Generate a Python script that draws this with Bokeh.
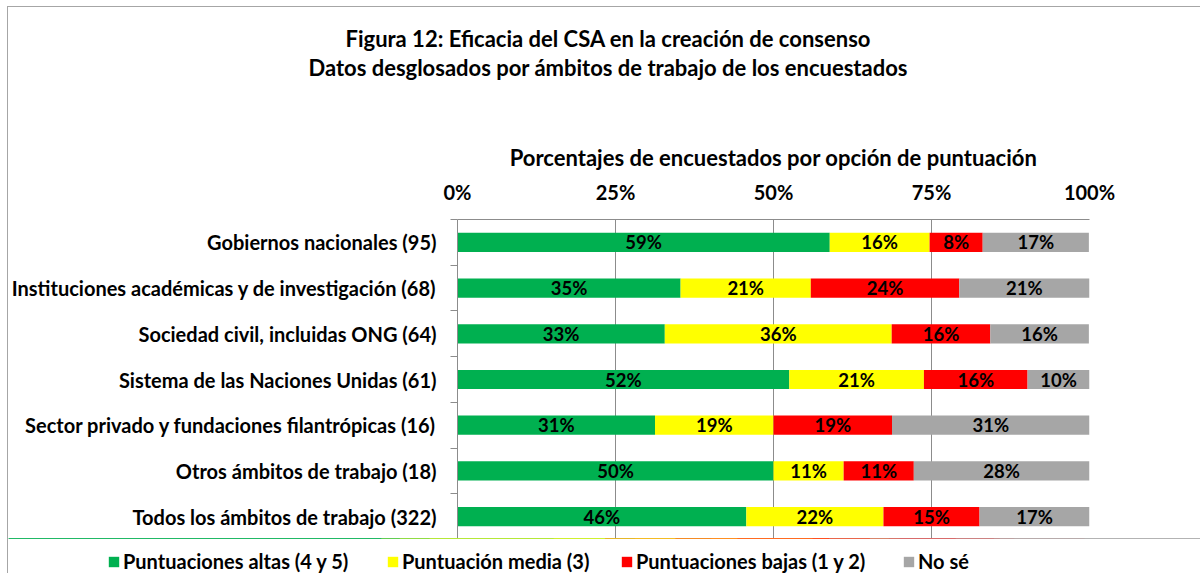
from bokeh.plotting import figure
from bokeh.layouts import column
from bokeh.models import (ColumnDataSource, Range1d, FixedTicker, Title, Legend,
                          LegendItem)
from bokeh.core.properties import value
from bokeh.embed import file_html
from bokeh.resources import INLINE

FONT = "Lato"

categories = [
    "Gobiernos nacionales (95)",
    "Instituciones académicas y de investigación (68)",
    "Sociedad civil, incluidas ONG (64)",
    "Sistema de las Naciones Unidas (61)",
    "Sector privado y fundaciones filantrópicas (16)",
    "Otros ámbitos de trabajo (18)",
    "Todos los ámbitos de trabajo (322)",
]
altas = [58.9, 35.3, 32.8, 52.5, 31.25, 50.0, 45.7]
media = [15.8, 20.6, 35.9, 21.3, 18.75, 11.1, 21.7]
bajas = [8.4, 23.5, 15.6, 16.4, 18.75, 11.1, 15.2]
nose = [16.8, 20.6, 15.6, 9.8, 31.25, 27.8, 17.4]

series_names = ["Puntuaciones altas (4 y 5)", "Puntuación media (3)",
                "Puntuaciones bajas (1 y 2)", "No sé"]
series_values = [altas, media, bajas, nose]
colors = ["#00B050", "#FFFF00", "#FF0000", "#A6A6A6"]

tick_values = [0, 25, 50, 75, 100]
tick_labels = ["0%", "25%", "50%", "75%", "100%"]

title_1 = "Figura 12: Eficacia del CSA en la creación de consenso"
title_2 = "Datos desglosados por ámbitos de trabajo de los encuestados"
axis_title = "Porcentajes de encuestados por opción de puntuación"

n = len(categories)
ypos = [n - 0.5 - i for i in range(n)]

GRID = "#8c8c8c"
BORDER = "1px solid #a6a6a6"

p = figure(width=1193, height=532, output_backend="svg", toolbar_location=None,
           x_range=Range1d(0, 100), y_range=Range1d(0, n),
           x_axis_location="above", title=None,
           min_border_left=448, min_border_right=112,
           min_border_top=212, min_border_bottom=0,
           styles={"margin-left": "7px", "margin-top": "6px",
                   "border-left": BORDER, "border-top": BORDER})
p.outline_line_color = None
p.background_fill_color = "white"
p.border_fill_color = "white"
p.frame_align = False

# x axis (top)
xa = p.xaxis[0]
xa.ticker = FixedTicker(ticks=tick_values)
xa.major_label_overrides = {v: l for v, l in zip(tick_values, tick_labels)}
xa.major_label_text_font = FONT
xa.major_label_text_font_style = "bold"
xa.major_label_text_font_size = "20px"
xa.major_label_text_color = "black"
xa.major_label_standoff = 16
xa.major_tick_out = 0
xa.major_tick_in = 0
xa.minor_tick_out = 0
xa.minor_tick_in = 0
xa.axis_line_color = GRID
xa.axis_label = axis_title
xa.axis_label_text_font = FONT
xa.axis_label_text_font_style = "bold"
xa.axis_label_text_font_size = "22px"
xa.axis_label_text_color = "black"
xa.axis_label_standoff = 6

# y axis (left)
ya = p.yaxis[0]
ya.ticker = FixedTicker(ticks=ypos, minor_ticks=list(range(n + 1)))
ya.major_label_overrides = {y: c for y, c in zip(ypos, categories)}
ya.major_label_text_font = FONT
ya.major_label_text_font_style = "bold"
ya.major_label_text_font_size = "20px"
ya.major_label_text_color = "black"
ya.major_label_standoff = 14
ya.major_tick_out = 0
ya.major_tick_in = 0
ya.minor_tick_out = 7
ya.minor_tick_in = 0
ya.minor_tick_line_color = GRID
ya.axis_line_color = GRID

p.xgrid.ticker = FixedTicker(ticks=tick_values)
p.xgrid.grid_line_color = GRID
p.ygrid.grid_line_color = None

# legend strip: separate canvas whose frame spans the full width
p2 = figure(width=1193, height=35, output_backend="svg", toolbar_location=None,
            x_range=Range1d(0, 100), y_range=Range1d(-20, -10),
            title=None, min_border_left=0, min_border_right=0,
            min_border_top=0, min_border_bottom=0,
            styles={"margin-left": "7px", "border-left": BORDER})
p2.axis.visible = False
p2.grid.visible = False
p2.outline_line_color = None
p2.background_fill_color = "white"
p2.border_fill_color = "white"
p2.frame_align = False

legend_x = [99, 378, 612, 894]
left = [0.0] * n
for name, vals, col, lx in zip(series_names, series_values, colors, legend_x):
    right = [l + v for l, v in zip(left, vals)]
    src = ColumnDataSource(dict(
        y=ypos, left=left, right=right,
        xc=[(l + r) / 2 for l, r in zip(left, right)],
        lab=[f"{round(v)}%" for v in vals]))
    p.hbar(y="y", left="left", right="right", height=0.42, source=src,
           fill_color=col, line_color=None)
    p.text(x="xc", y="y", text="lab", source=src, text_align="center",
           text_baseline="middle", text_font=value(FONT), text_font_style="bold",
           text_font_size="18.5px", text_color="black")
    # legend key (same series; lies outside this strip's visible range)
    key = p2.hbar(y="y", left="left", right="right", height=0.42, source=src,
                  fill_color=col, line_color=None)
    lg = Legend(items=[LegendItem(label=name, renderers=[key])],
                location=(lx, 0), orientation="horizontal",
                label_text_font=FONT, label_text_font_style="bold",
                label_text_font_size="20px", label_text_color="black",
                glyph_width=13, glyph_height=13, label_standoff=3,
                label_height=24, padding=0, margin=0, border_line_color=None,
                background_fill_alpha=0)
    p2.add_layout(lg, "center")
    left = right

spacer = Title(text=" ", text_font_size="1px", standoff=57)
p.add_layout(spacer, "above")
t2 = Title(text=title_2, align="left", offset=-149, text_font=FONT,
           text_font_style="bold", text_font_size="22px", text_color="black",
           standoff=0)
p.add_layout(t2, "above")
t1 = Title(text=title_1, align="left", offset=-112, text_font=FONT,
           text_font_style="bold", text_font_size="22px", text_color="black",
           standoff=0)
p.add_layout(t1, "above")

layout = column(p, p2, spacing=0)

open("out.html", "w").write(file_html(layout, INLINE))
